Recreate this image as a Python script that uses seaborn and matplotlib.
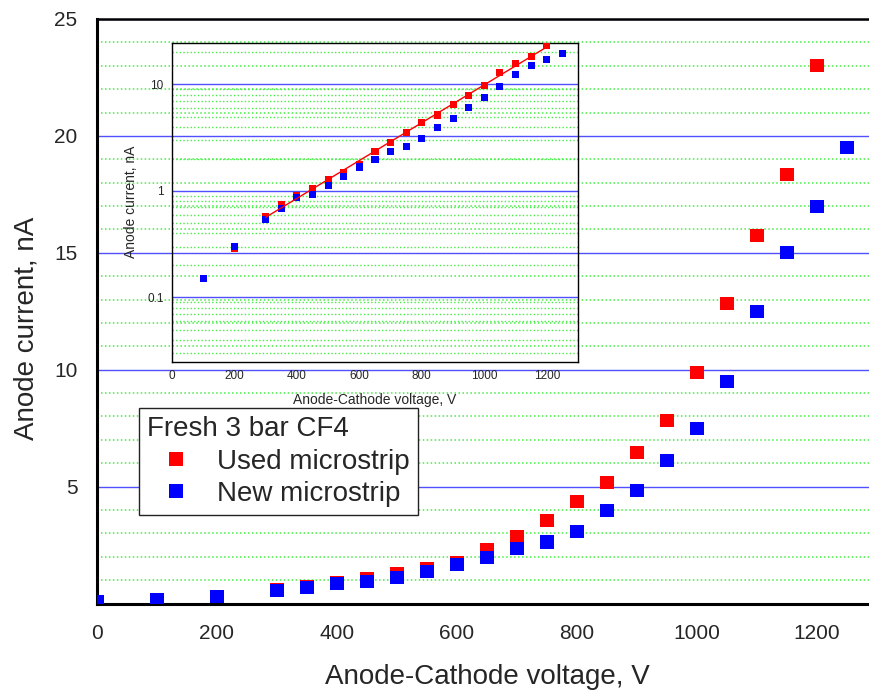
import numpy as np
import pandas as pd
import matplotlib
matplotlib.use("Agg")
import matplotlib.pyplot as plt
import seaborn as sns
from matplotlib.ticker import MultipleLocator, FixedLocator, NullFormatter, FixedFormatter
from matplotlib.lines import Line2D

# ---------------- data ----------------
voltage_used = [200, 300, 350, 400, 450, 500, 550, 600, 650, 700, 750, 800, 850,
                900, 950, 1000, 1050, 1100, 1150, 1200]
current_used = [0.29, 0.58, 0.74, 0.90, 1.05, 1.28, 1.49, 1.77, 2.33, 2.87, 3.57,
                4.37, 5.17, 6.45, 7.82, 9.86, 12.84, 15.73, 18.34, 23.0]
voltage_new = [0, 100, 200, 300, 350, 400, 450, 500, 550, 600, 650, 700, 750, 800,
               850, 900, 950, 1000, 1050, 1100, 1150, 1200, 1250]
current_new = [0.10, 0.15, 0.30, 0.54, 0.68, 0.86, 0.93, 1.13, 1.38, 1.68, 1.97,
               2.37, 2.63, 3.08, 3.98, 4.82, 6.10, 7.47, 9.49, 12.48, 15.0, 17.0, 19.5]
series_labels = ["Used microstrip", "New microstrip"]
series_colors = ["#ff0000", "#0000ff"]
legend_title = "Fresh 3 bar CF4"
x_label = "Anode-Cathode voltage, V"
y_label = "Anode current, nA"
main_xticks = [0, 200, 400, 600, 800, 1000, 1200]
main_yticks = [5, 10, 15, 20, 25]
inset_yticks = [0.1, 1, 10]
inset_yticklabels = ["0.1", "1", "10"]
fit_range = [300, 1200]

df = pd.concat([
    pd.DataFrame({"V": voltage_used, "I": current_used, "s": series_labels[0]}),
    pd.DataFrame({"V": voltage_new, "I": current_new, "s": series_labels[1]}),
], ignore_index=True)
palette = dict(zip(series_labels, series_colors))

# fit line (exponential) on used microstrip
fu = df[(df.s == series_labels[0]) & (df.V >= fit_range[0]) & (df.V <= fit_range[1])]
coef = np.polyfit(fu.V, np.log10(fu.I), 1)
fit_df = pd.DataFrame({"V": fit_range})
fit_df["I"] = 10 ** np.polyval(coef, fit_df.V)

# ---------------- style ----------------
sns.set_style("white")
plt.rcParams["font.family"] = ["Liberation Sans", "DejaVu Sans"]

W, H = 870, 693
fig = plt.figure(figsize=(W / 100, H / 100), dpi=100)

GRID_BLUE = "#5050ff"
GRID_GREEN = "#44ee44"

# ---------------- main axes ----------------
x0, x1, yb, yt = 97, 877, 603.5, 19
ax = fig.add_axes([x0 / W, (H - yb) / H, (x1 - x0) / W, (yb - yt) / H])
ax.set_xlim(0, 1300)
ax.set_ylim(0, 25)

ax.yaxis.set_major_locator(FixedLocator(main_yticks))
ax.yaxis.set_minor_locator(MultipleLocator(1))
ax.xaxis.set_major_locator(FixedLocator(main_xticks))
ax.xaxis.set_minor_locator(MultipleLocator(100))
ax.grid(True, which="major", axis="y", color=GRID_BLUE, lw=1.0, ls="-")
ax.grid(True, which="minor", axis="y", color=GRID_GREEN, lw=1.1, ls=(0, (1, 1.6)))
ax.set_axisbelow(True)

sns.scatterplot(data=df, x="V", y="I", hue="s", palette=palette, marker="s",
                s=88, linewidth=0, legend=False, ax=ax, zorder=3)

for side in ["left", "bottom", "top"]:
    ax.spines[side].set_linewidth(2.2)
    ax.spines[side].set_color("black")
ax.spines["top"].set_linewidth(1.8)
ax.spines["right"].set_visible(False)

ax.tick_params(axis="both", which="major", direction="out", length=8, width=1.8,
               labelsize=15, pad=6, color="black")
ax.tick_params(axis="both", which="minor", direction="out", length=4.5, width=1.6,
               color="black")
ax.tick_params(axis="x", which="major", pad=7)

ax.set_xlabel(x_label, fontsize=20, va="center")
ax.set_ylabel(y_label, fontsize=20, va="center")
ax.xaxis.set_label_coords(0.5, (yb - 677) / (yb - yt))
ax.yaxis.set_label_coords((27 - x0) / (x1 - x0), (yb - 328) / (yb - yt))

handles = [Line2D([], [], ls="none", marker="s", markersize=9.4, markeredgewidth=0,
                  color=c) for c in series_colors]
leg = ax.legend(handles, series_labels, title=legend_title, loc="lower left",
                bbox_to_anchor=((139 - x0) / (x1 - x0), (yb - 515) / (yb - yt)),
                borderaxespad=0, fontsize=20, title_fontsize=20, frameon=True,
                fancybox=False, framealpha=1, edgecolor="#222222",
                handlelength=2.1, handletextpad=0.4, borderpad=0.3,
                labelspacing=0.22, alignment="left")
leg.get_frame().set_linewidth(1.0)
leg.set_zorder(5)

# ---------------- inset ----------------
ix0, ix1, iyb, iyt = 172, 578, 362, 43
ins = fig.add_axes([ix0 / W, (H - iyb) / H, (ix1 - ix0) / W, (iyb - iyt) / H])
ins.set_facecolor("none")
ins.set_yscale("log")
ins.set_xlim(0, 1300)
ins.set_ylim(0.0248, 24.5)

ins.yaxis.set_major_locator(FixedLocator(inset_yticks))
ins.yaxis.set_major_formatter(FixedFormatter(inset_yticklabels))
minor_pos = [m * 10.0 ** e for e in (-2, -1, 0, 1) for m in range(2, 10)]
ins.yaxis.set_minor_locator(FixedLocator(minor_pos))
ins.yaxis.set_minor_formatter(NullFormatter())
ins.xaxis.set_major_locator(FixedLocator(main_xticks))
ins.xaxis.set_minor_locator(MultipleLocator(100))
ins.grid(True, which="major", axis="y", color=GRID_BLUE, lw=1.0, ls="-")
ins.grid(True, which="minor", axis="y", color=GRID_GREEN, lw=1.0, ls=(0, (1, 1.6)))
ins.set_axisbelow(True)

dfi = df[df.V > 0]
sns.scatterplot(data=dfi, x="V", y="I", hue="s", palette=palette, marker="s",
                s=26, linewidth=0, legend=False, ax=ins, zorder=3)
sns.lineplot(data=fit_df, x="V", y="I", color="#ff0000", lw=1.0, ax=ins, zorder=4)

for sp in ins.spines.values():
    sp.set_linewidth(1.0)
    sp.set_color("black")
ins.tick_params(axis="both", which="major", direction="out", length=4, width=0.9,
                labelsize=8.5, pad=2, color="black")
ins.tick_params(axis="both", which="minor", direction="out", length=2, width=0.8,
                color="black")
ins.set_xlabel(x_label, fontsize=10, va="center")
ins.set_ylabel(y_label, fontsize=10, va="center")
ins.xaxis.set_label_coords(0.5, (iyb - 400) / (iyb - iyt))
ins.yaxis.set_label_coords((131 - ix0) / (ix1 - ix0), (iyb - 202) / (iyb - iyt))

fig.savefig("out.png", dpi=100)
